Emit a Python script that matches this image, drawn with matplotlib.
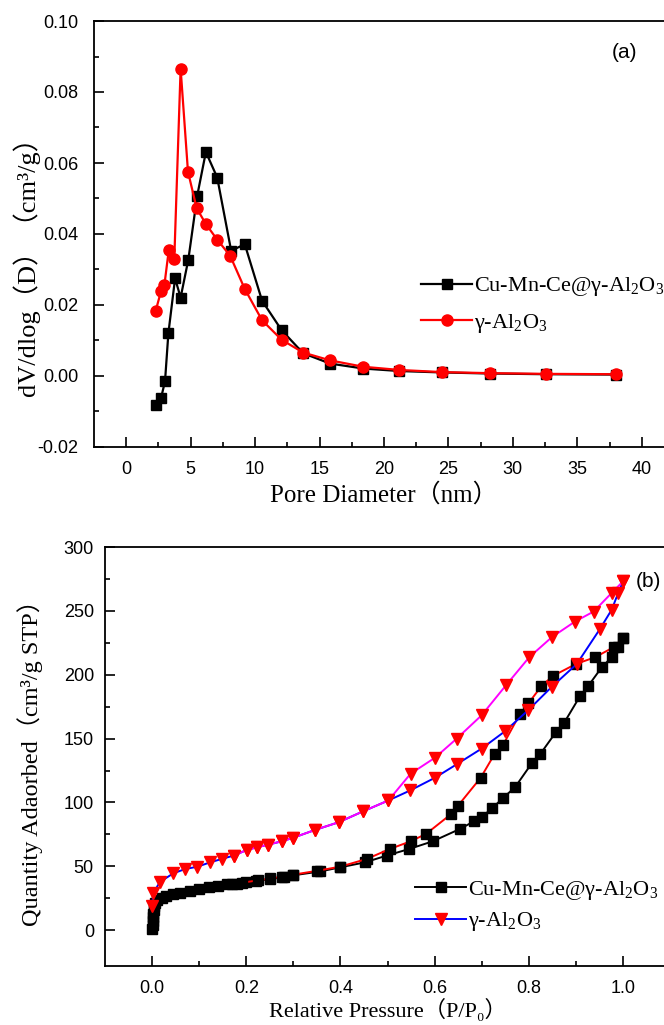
import numpy as np
import matplotlib
matplotlib.use("Agg")
import matplotlib.pyplot as plt

plt.rcParams['font.family'] = ['Liberation Sans', 'DejaVu Sans']
plt.rcParams['mathtext.fontset'] = 'custom'
plt.rcParams['mathtext.rm'] = 'Liberation Serif'
plt.rcParams['mathtext.it'] = 'Liberation Serif:italic'

# (a) pore size distribution
d_cu = [2.32, 2.70, 3.01, 3.27, 3.79, 4.22, 4.82, 5.51, 6.18, 7.06, 8.14, 9.20,
        10.54, 12.06, 13.73, 15.82, 18.4, 21.2, 24.5, 28.2, 32.6, 38.0]
v_cu = [-0.0082, -0.0062, -0.0015, 0.0120, 0.0275, 0.0221, 0.0328, 0.0508, 0.0631,
        0.0559, 0.0353, 0.0371, 0.0212, 0.0129, 0.0064, 0.0035, 0.0021, 0.0014,
        0.0010, 0.0007, 0.0005, 0.0004]
d_al = [2.29, 2.70, 2.96, 3.30, 3.73, 4.22, 4.79, 5.46, 6.18, 7.06, 8.06, 9.20,
        10.54, 12.06, 13.73, 15.82, 18.4, 21.2, 24.5, 28.2, 32.6, 38.0]
v_al = [0.0184, 0.0239, 0.0256, 0.0354, 0.0330, 0.0866, 0.0576, 0.0473, 0.0428,
        0.0384, 0.0339, 0.0245, 0.0157, 0.0102, 0.0066, 0.0044, 0.0026, 0.0017,
        0.0011, 0.0008, 0.0006, 0.0005]

# (b) N2 isotherms
cu_ads_p = [0.0005, 0.001, 0.0015, 0.002, 0.003, 0.004, 0.005, 0.007, 0.01, 0.02, 0.03,
            0.045, 0.06, 0.08, 0.10, 0.12, 0.14, 0.16, 0.18, 0.20, 0.22, 0.25, 0.28,
            0.30, 0.357, 0.399, 0.452, 0.498, 0.546, 0.596, 0.654, 0.684, 0.700,
            0.723, 0.746, 0.771, 0.807, 0.824, 0.858, 0.875, 0.909, 0.926, 0.955,
            0.976, 0.99, 1.0]
cu_ads_v = [1, 4, 7, 10, 13, 16, 19, 21, 23.5, 25.5, 27, 28.5, 29.5, 31, 32.5, 33.5,
            35, 35.8, 36.5, 37.5, 38.5, 40, 41.5, 43, 46, 49.2, 53.1, 58.4, 63.6,
            69.6, 79.3, 85.3, 88.5, 95.8, 103.7, 112.0, 131, 137.7, 155.2, 162.3,
            183.3, 191.1, 205.8, 213.7, 221.5, 228.6]
cu_des_p = [1.0, 0.98, 0.941, 0.900, 0.851, 0.827, 0.799, 0.781, 0.745, 0.728, 0.698,
            0.650, 0.634, 0.582, 0.549, 0.505, 0.456, 0.40, 0.35, 0.30, 0.275, 0.25,
            0.225, 0.19, 0.17]
cu_des_v = [228.6, 221.5, 213.7, 208.4, 199.0, 191.1, 177.5, 169.1, 144.8, 138.3,
            119.4, 97.6, 90.6, 75.4, 69.6, 63.6, 55.8, 49.8, 46.5, 43.5, 41.8, 40.5,
            39, 37.2, 36.3]
al_ads_p = [0.0, 0.003, 0.017, 0.045, 0.070, 0.096, 0.123, 0.148, 0.173, 0.201, 0.222,
            0.247, 0.275, 0.299, 0.346, 0.396, 0.449, 0.502, 0.548, 0.601, 0.647,
            0.700, 0.749, 0.799, 0.849, 0.902, 0.951, 0.976, 0.99, 1.0]
al_ads_v = [19.1, 29.5, 37.9, 44.5, 47.9, 49.7, 53.1, 55.8, 58.4, 62.8, 64.9, 67.0,
            69.6, 72.3, 78.5, 84.5, 93.2, 101.6, 109.4, 119.4, 129.9, 142.2, 155.6,
            172.3, 190.6, 208.4, 235.7, 250.8, 264, 273]
al_des_p = [1.0, 0.976, 0.938, 0.898, 0.849, 0.801, 0.752, 0.700, 0.647, 0.601, 0.549,
            0.502, 0.449, 0.396, 0.346, 0.299, 0.275, 0.247, 0.222, 0.201, 0.173]
al_des_v = [273, 264, 249.5, 241.6, 229.4, 213.7, 191.9, 168.3, 150.0, 135.1, 122.5,
            101.6, 93.2, 84.5, 78.5, 72.3, 69.6, 67.0, 64.9, 62.8, 58.4]

lab_cu = r'Cu-Mn-Ce@γ-Al$_2$O$_3$'
lab_al = r'γ-Al$_2$O$_3$'
serif = ['Liberation Serif', 'Noto Sans CJK SC', 'DejaVu Serif']

fig = plt.figure(figsize=(6.64, 10.25), dpi=100)
ax1 = fig.add_axes([94/664, 1-447/1025, (674-94)/664, (447-21)/1025])
ax2 = fig.add_axes([105/664, 1-966/1025, (670-105)/664, (966-547)/1025])

ax1.plot(d_cu, v_cu, '-s', color='black', lw=1.6, ms=7, label=lab_cu)
ax1.plot(d_al, v_al, '-o', color='red', mec='red', lw=1.6, ms=8, label=lab_al)
ax1.set_xlim(-2.5, 42.5)
ax1.set_ylim(-0.02, 0.10)
ax1.set_xticks(np.arange(0, 41, 5))
ax1.set_xticks(np.arange(2.5, 41, 5), minor=True)
ax1.set_yticks(np.arange(-0.02, 0.101, 0.02))
ax1.set_yticks(np.arange(-0.01, 0.1, 0.02), minor=True)
ax1.set_yticklabels([f'{v:.2f}' for v in np.arange(-0.02, 0.101, 0.02)])
ax1.set_xlabel('Pore Diameter（nm）', family=serif, fontsize=18)
ax1.set_ylabel('dV/dlog（D）（cm³/g）', family=serif, fontsize=19)
ax1.text(0.893, 0.913, '(a)', transform=ax1.transAxes, fontsize=15)
ax1.legend(loc='center left', bbox_to_anchor=(421/664, 1-305/1025),
           bbox_transform=fig.transFigure, frameon=False, numpoints=1,
           prop={'family': 'Liberation Serif', 'size': 16}, handlelength=2.3,
           handletextpad=0.1, labelspacing=0.6, borderpad=0, borderaxespad=0)

ax2.plot(cu_ads_p, cu_ads_v, '-s', color='black', lw=1.4, ms=6.5, label=lab_cu)
ax2.plot(cu_des_p, cu_des_v, '-s', color='red', mfc='black', mec='black', lw=1.4, ms=6.5)
ax2.plot(al_ads_p, al_ads_v, '-v', color='blue', mfc='red', mec='red', lw=1.4, ms=8, label=lab_al)
ax2.plot(al_des_p, al_des_v, '-v', color='magenta', mfc='red', mec='red', lw=1.4, ms=8)
ax2.set_xlim(-0.1, 1.1)
ax2.set_ylim(-28, 300)
ax2.set_xticks(np.arange(0, 1.01, 0.2))
ax2.set_xticks(np.arange(0.1, 1.1, 0.2), minor=True)
ax2.set_xticklabels([f'{v:.1f}' for v in np.arange(0, 1.01, 0.2)])
ax2.set_yticks(np.arange(0, 301, 50))
ax2.set_yticks(np.arange(25, 300, 50), minor=True)
ax2.set_xlabel('Relative Pressure（P/P₀）', family=serif, fontsize=16)
ax2.set_ylabel('Quantity Adaorbed（cm³/g STP）', family=serif, fontsize=17.5)
ax2.text(0.94, 0.905, '(b)', transform=ax2.transAxes, fontsize=15)
ax2.legend(loc='center left', bbox_to_anchor=(415/664, 1-906/1025),
           bbox_transform=fig.transFigure, frameon=False, numpoints=1,
           prop={'family': 'Liberation Serif', 'size': 16}, handlelength=2.3,
           handletextpad=0.1, labelspacing=0.4, borderpad=0, borderaxespad=0)

for ax in (ax1, ax2):
    ax.tick_params(which='both', direction='in', labelsize=13, width=1.2)
    ax.tick_params(which='major', length=7)
    ax.tick_params(which='minor', length=3.5)
    ax.tick_params(axis='x', pad=10)
    for s in ax.spines.values():
        s.set_linewidth(1.3)
ax1.tick_params(axis='y', pad=11)
ax2.tick_params(axis='y', pad=8)

ax1.xaxis.set_label_coords(0.5, -0.085)
ax1.yaxis.set_label_coords(-0.093, 0.44)
ax2.xaxis.set_label_coords(0.5, -0.078)
ax2.yaxis.set_label_coords(-0.11, 0.5)

fig.savefig('out.png', dpi=100)
